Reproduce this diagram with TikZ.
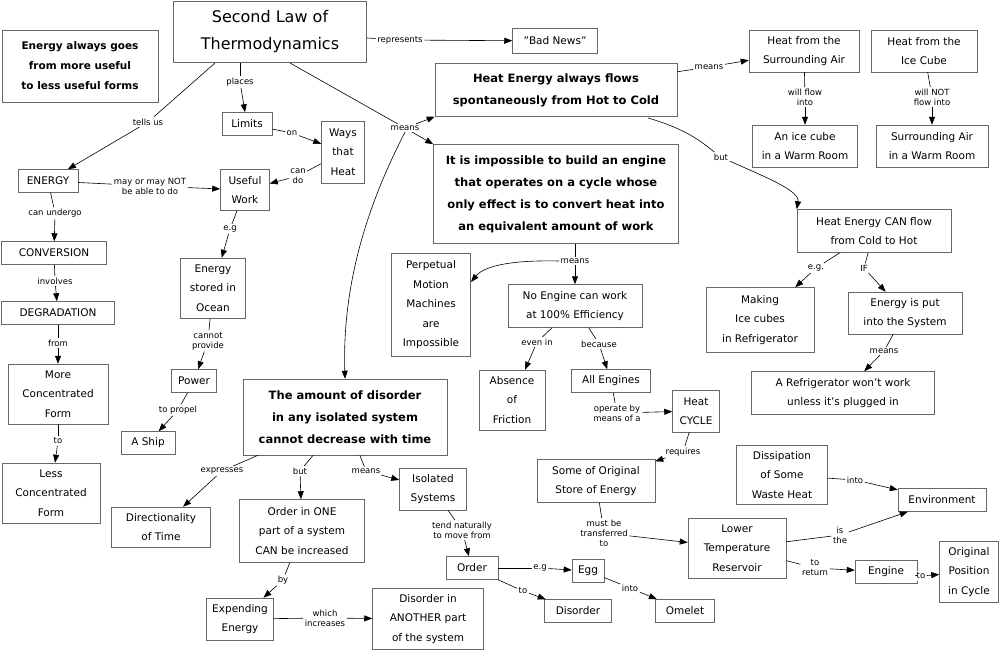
\documentclass[tikz,border=0pt]{standalone}
\usepackage{fontspec}
\setmainfont{DejaVu Sans}
\usetikzlibrary{arrows.meta}
\begin{document}
\begin{tikzpicture}[x=1pt,y=-1pt,
 box/.style={draw=black!60,line width=0.5pt,align=center,inner sep=2pt,font=\fontsize{10.5}{19.5}\selectfont},
 bb/.style={box,font=\bfseries\fontsize{11.5}{22}\selectfont},
 lab/.style={fill=white,inner sep=1.5pt,align=center,font=\fontsize{8.5}{10}\selectfont},
 ar/.style={-{Triangle[length=8pt,width=6pt]},line width=0.6pt},
 ln/.style={line width=0.6pt}]
\useasboundingbox[fill=white] (0,0) rectangle (1003,654);
\def\B#1#2#3#4#5#6{\node[box,minimum width=#4,minimum height=#5] (#1) at (#2,#3) {#6};}
% nodes
\node[box,minimum width=193,minimum height=61,font=\fontsize{16}{27}\selectfont] (title) at (270,32) {Second Law of\\Thermodynamics};
\node[bb,minimum width=156,minimum height=72,font=\bfseries\fontsize{10.5}{20}\selectfont] (ea) at (80,66) {Energy always goes\\from more useful\\to less useful forms};
\B{bad}{555}{41}{85}{25}{\char34 Bad News\char34}
\node[bb,minimum width=242,minimum height=53] (hf) at (556,90) {Heat Energy always flows\\spontaneously from Hot to Cold};
\B{sa}{804}{51}{110}{42}{Heat from the\\Surrounding Air}
\B{ic}{924}{51}{106}{42}{Heat from the\\Ice Cube}
\B{icw}{805}{146}{105}{42}{An ice cube\\in a Warm Room}
\B{saw}{932}{146}{112}{42}{Surrounding Air\\in a Warm Room}
\B{lim}{247}{124}{50}{23}{Limits}
\B{ways}{343}{152}{43}{62}{Ways\\that\\Heat}
\B{en}{48}{181}{60}{23}{ENERGY}
\B{uw}{245}{190}{49}{41}{Useful\\Work}
\node[bb,minimum width=245,minimum height=99] (imp) at (556,194) {It is impossible to build an engine\\that operates on a cycle whose\\only effect is to convert heat into\\an equivalent amount of work};
\B{can}{874}{231}{154}{43}{Heat Energy CAN flow\\from Cold to Hot}
\B{conv}{54}{253}{105}{23}{CONVERSION}
\B{eso}{213}{288}{65}{60}{Energy\\stored in\\Ocean}
\B{pm}{431}{305}{79}{103}{Perpetual\\Motion\\Machines\\are\\Impossible}
\B{ne}{575}{306}{134}{43}{No Engine can work\\at 100\% Efficiency}
\B{mic}{760}{320}{108}{65}{Making\\Ice cubes\\in Refrigerator}
\B{eip}{905}{313}{114}{42}{Energy is put\\into the System}
\B{deg}{58}{313}{113}{23}{DEGRADATION}
\B{mcf}{58}{394}{100}{60}{More\\Concentrated\\Form}
\B{pow}{194}{381}{45}{23}{Power}
\node[bb,minimum width=204,minimum height=76] (dis) at (345,417) {The amount of disorder\\in any isolated system\\cannot decrease with time};
\B{abs}{512}{400}{66}{60}{Absence\\of\\Friction}
\B{ae}{611}{381}{79}{23}{All Engines}
\B{ref}{843}{393}{183}{43}{A Refrigerator won't work\\unless it's plugged in}
\B{hc}{696}{411}{47}{42}{Heat\\CYCLE}
\B{ship}{148}{443}{54}{23}{A Ship}
\B{lcf}{51}{493}{98}{60}{Less\\Concentrated\\Form}
\B{dsw}{782}{475}{91}{59}{Dissipation\\of Some\\Waste Heat}
\B{soe}{596}{481}{118}{43}{Some of Original\\Store of Energy}
\B{iso}{433}{489}{67}{42}{Isolated\\Systems}
\B{dt}{161}{527}{99}{40}{Directionality\\of Time}
\B{one}{302}{531}{125}{63}{Order in ONE\\part of a system\\CAN be increased}
\B{env}{942}{500}{88}{23}{Environment}
\B{ltr}{737}{548}{98}{60}{Lower\\Temperature\\Reservoir}
\B{op}{969}{572}{59}{61}{Original\\Position\\in Cycle}
\B{ord}{472}{568}{52}{23}{Order}
\B{egg}{588}{571}{32}{23}{Egg}
\B{eng}{886}{572}{62}{23}{Engine}
\B{exp}{240}{619}{67}{42}{Expending\\Energy}
\B{dan}{428}{619}{111}{61}{Disorder in\\ANOTHER part\\of the system}
\B{dord}{578}{611}{67}{23}{Disorder}
\B{om}{685}{611}{59}{23}{Omelet}
% labels
\node[lab] (l1) at (400,40) {represents};
\node[lab] (l2) at (240,82) {places};
\node[lab] (l3) at (148,122) {tells us};
\node[lab] (l4) at (405,128) {means};
\node[lab] (l5) at (292,133) {on};
\node[lab] (l6) at (298,176) {can\\do};
\node[lab] (l7) at (150,186) {may or may NOT\\be able to do};
\node[lab] (l8) at (55,213) {can undergo};
\node[lab] (l9) at (55,281) {involves};
\node[lab] (l10) at (58,343) {from};
\node[lab] (l11) at (58,441) {to};
\node[lab] (l12) at (230,229) {e.g};
\node[lab] (l13) at (208,341) {cannot\\provide};
\node[lab] (l14) at (178,410) {to propel};
\node[lab] (l15) at (709,67) {means};
\node[lab] (l16) at (805,97) {will flow\\into};
\node[lab] (l17) at (932,97) {will NOT\\flow into};
\node[lab] (l18) at (721,157) {but};
\node[lab] (l19) at (575,261) {means};
\node[lab] (l20) at (537,342) {even in};
\node[lab] (l21) at (599,344) {because};
\node[lab] (l22) at (617,413) {operate by\\means of a};
\node[lab] (l23) at (683,452) {requires};
\node[lab] (l24) at (816,268) {e.g.};
\node[lab] (l25) at (864,268) {IF};
\node[lab] (l26) at (884,351) {means};
\node[lab] (l27) at (604,533) {must be\\transferred\\to};
\node[lab] (l28) at (855,480) {into};
\node[lab] (l29) at (840,535) {is\\the};
\node[lab] (l30) at (815,568) {to\\return};
\node[lab] (l31) at (921,576) {to};
\node[lab] (l32) at (222,471) {expresses};
\node[lab] (l33) at (300,471) {but};
\node[lab] (l34) at (366,471) {means};
\node[lab] (l35) at (462,530) {tend naturally\\to move from};
\node[lab] (l36) at (540,568) {e.g};
\node[lab] (l37) at (523,591) {to};
\node[lab] (l38) at (630,588) {into};
\node[lab] (l39) at (283,580) {by};
\node[lab] (l40) at (325,618) {which\\increases};
\coordinate (pmin) at (471,282);
% connectors
\def\L#1#2#3{\draw[ln] (#1) -- (#2); \draw[ar] (#2) -- (#3);}
\L{title}{l1}{bad}
\draw[ln] (title.south -| l2) -- (l2); \draw[ar] (l2) -- (lim);
\draw[ln] (215,63) -- (l3); \draw[ar] (l3) -- (en);
\draw[ln] (290,63) -- (l4);
\draw[ar] (l4) -- (hf.south west);
\draw[ar] (l4) -- (imp.north west);
\draw[ar] (l4.south) .. controls (370,200) and (342,280) .. (dis.north);
\L{lim}{l5}{ways}
\L{ways}{l6}{uw}
\L{en}{l7}{uw}
\L{en}{l8}{conv}
\L{conv}{l9}{deg}
\L{deg}{l10}{mcf}
\L{mcf}{l11}{lcf}
\L{uw}{l12}{eso}
\L{eso}{l13}{pow}
\L{pow}{l14}{ship}
\L{hf}{l15}{sa}
\L{sa}{l16}{icw}
\L{ic}{l17}{saw}
\draw[ln] (648,118) .. controls (690,130) and (705,145) .. (l18);
\draw[ar] (l18) .. controls (760,175) and (800,190) .. (can.north west);
\draw[ln] (imp.south -| l19) -- (l19);
\draw[ar] (l19.west) .. controls (515,260) and (485,265) .. (pmin);
\draw[ar] (l19) -- (ne);
\L{ne}{l20}{abs}
\L{ne}{l21}{ae}
\L{ae}{l22}{hc}
\L{hc}{l23}{soe}
\L{can}{l24}{mic}
\L{can}{l25}{eip}
\L{eip}{l26}{ref}
\L{soe}{l27}{ltr}
\L{dsw}{l28}{env}
\L{ltr}{l29}{env}
\L{ltr}{l30}{eng}
\L{eng}{l31}{op}
\L{dis}{l32}{dt}
\L{dis}{l33}{one}
\L{dis}{l34}{iso}
\L{iso}{l35}{ord}
\L{ord}{l36}{egg}
\L{ord}{l37}{dord}
\L{egg}{l38}{om}
\L{one}{l39}{exp}
\L{exp}{l40}{dan}
\end{tikzpicture}
\end{document}
